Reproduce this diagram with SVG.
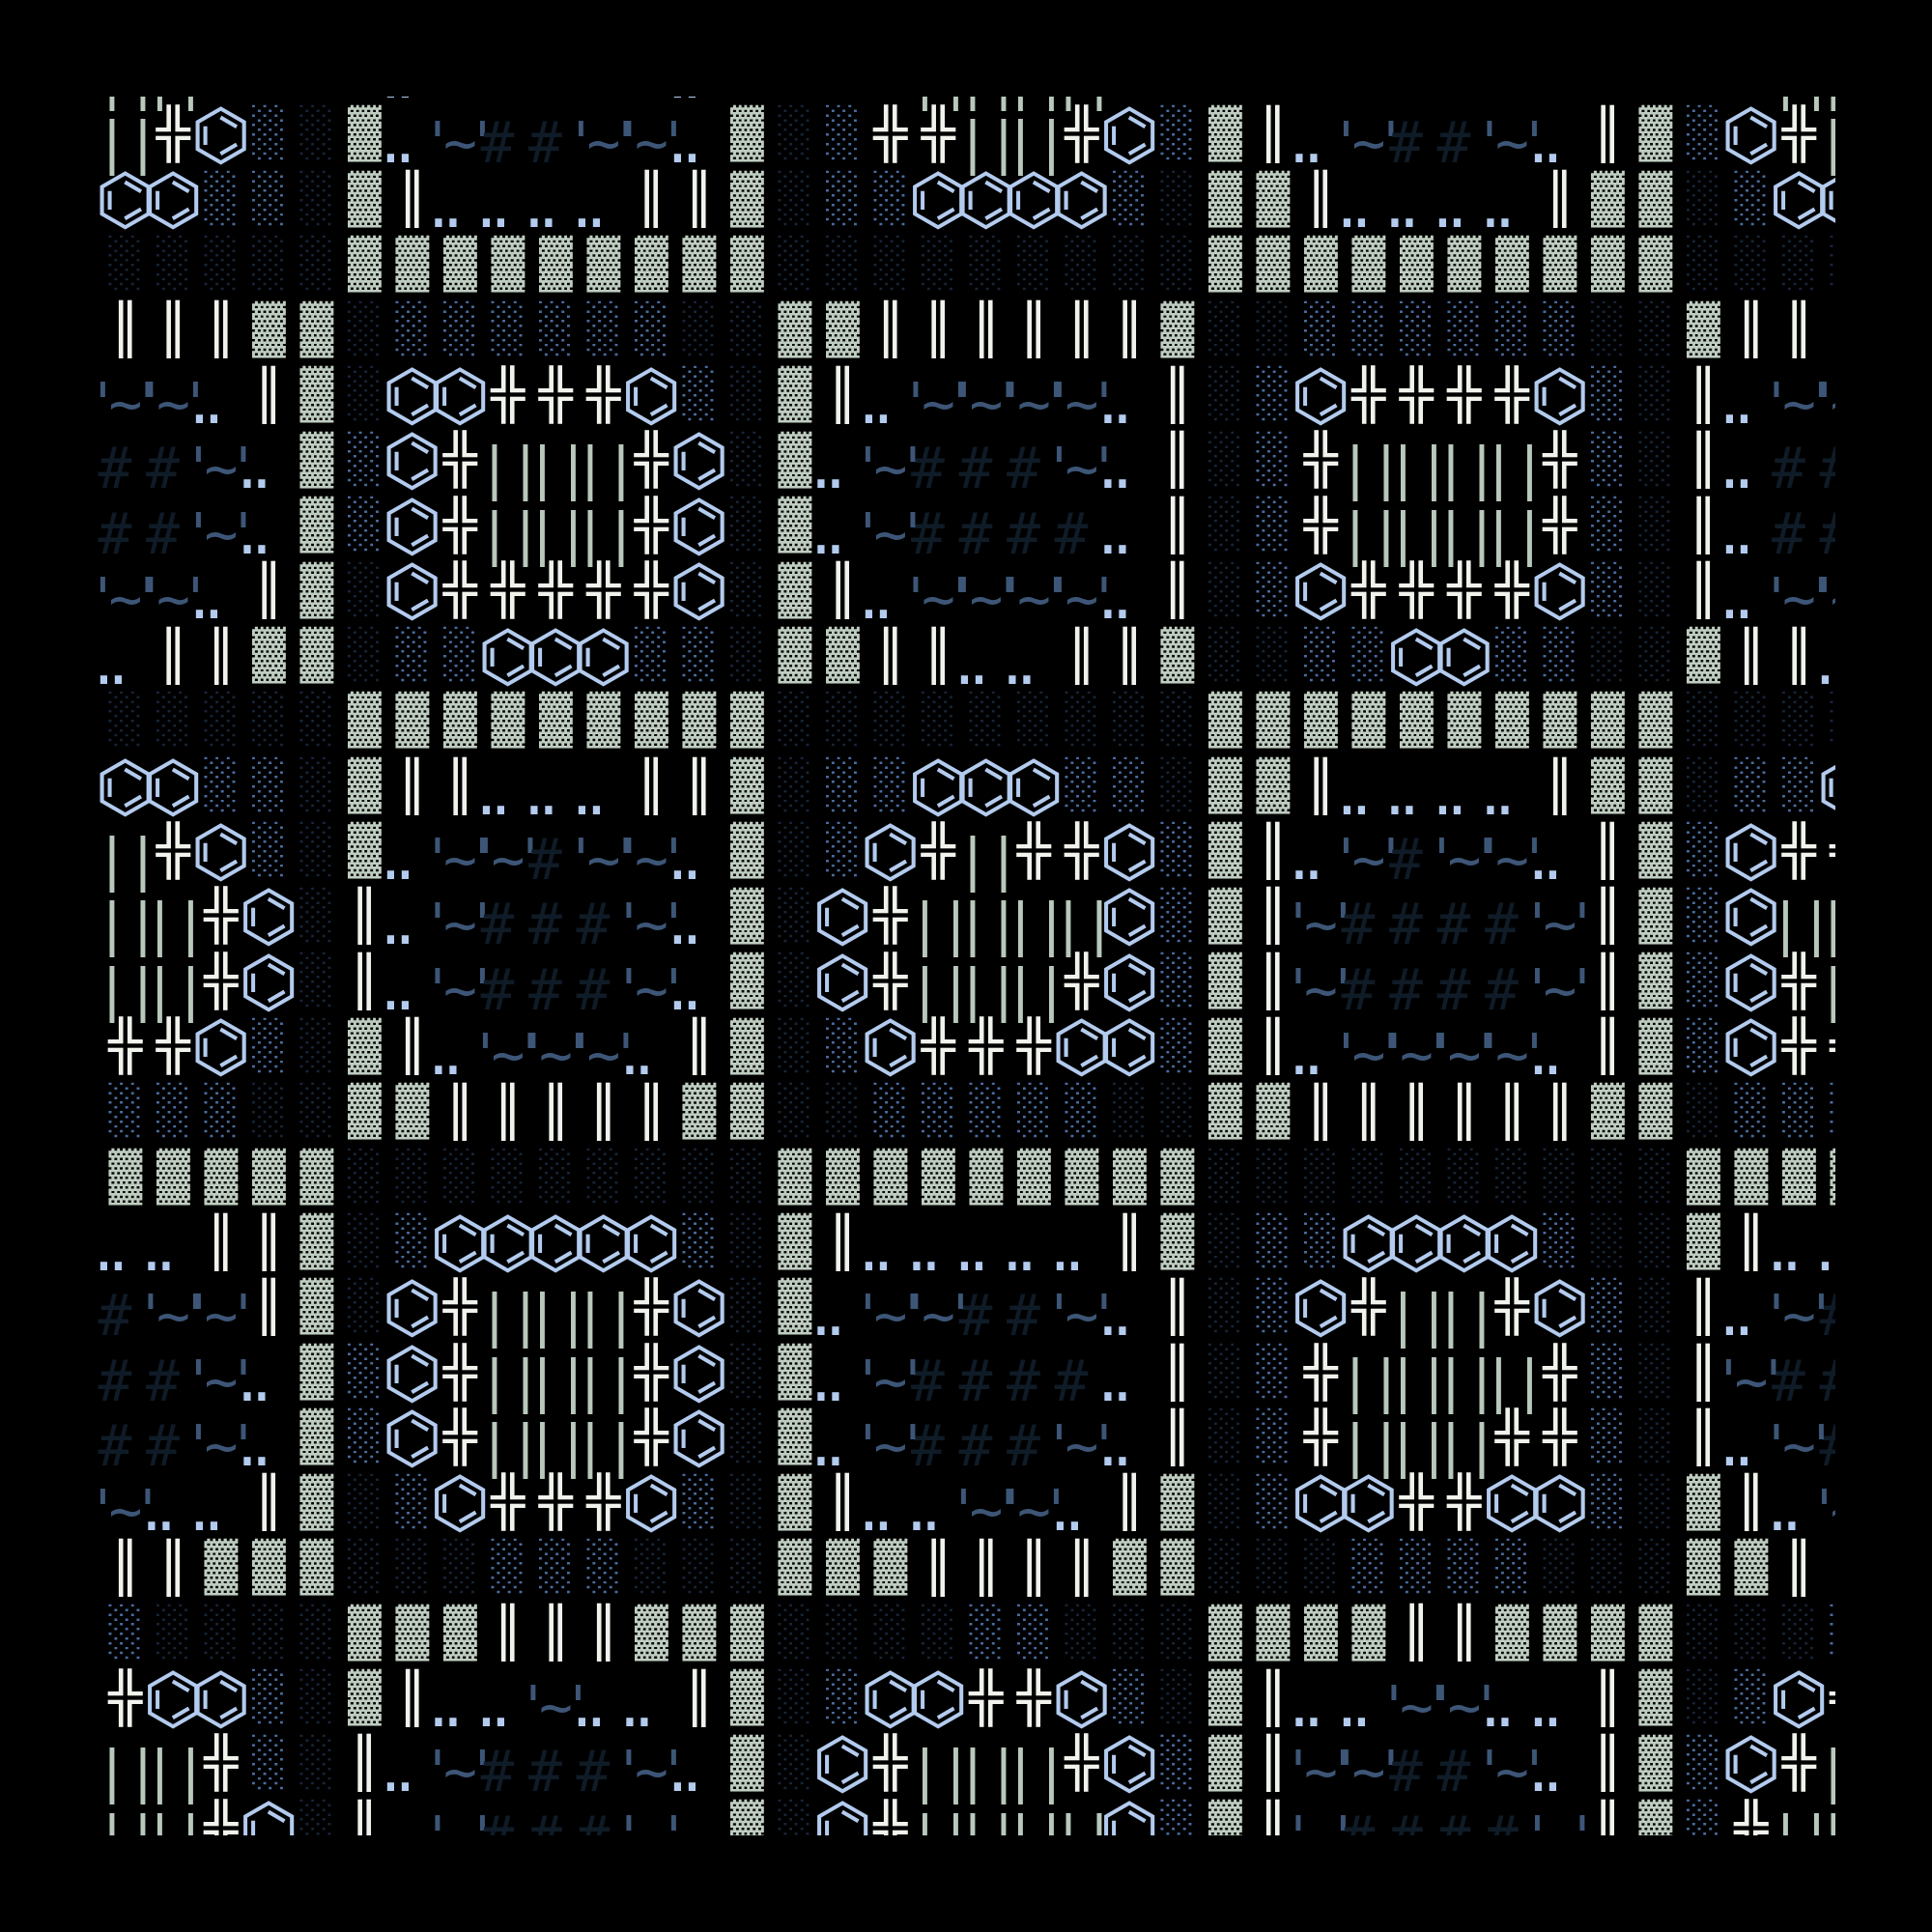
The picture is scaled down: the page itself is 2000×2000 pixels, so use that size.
<svg xmlns="http://www.w3.org/2000/svg" width="2000" height="2000" viewBox="0 0 2000 2000">
<style>
text{font-family:"DejaVu Sans Mono","DejaVu Sans",monospace;font-size:58px;text-anchor:middle}
.s1,.s2,.s3{font-family:"Liberation Mono","DejaVu Sans Mono",monospace}
.s3{fill:#bfcdc1}.s2{fill:#4a6b9f}.s1{fill:#172539}.dv,.dx{fill:#f0f3ec}.bz{fill:#b3cbee;font-size:72px}.pb{fill:#b8c8bb}.tq{fill:#3d5677}.hs{fill:#0f1b27}.dt{fill:#b3cbee}
</style>
<defs><clipPath id="clip"><rect x="100" y="100" width="1800" height="1800"/></clipPath></defs>
<rect width="2000" height="2000" fill="#000"/>
<g clip-path="url(#clip)">
<g id="rowm1" transform="translate(0,41.55)">
<text class="pb" y="59" x="116 148 165.5 197.5 957.5 989.5 1007 1039 1056.5 1088.5 1106 1138 1848.5 1880.5 1898 1930">||||||||||||||||</text>
<text class="dt" y="59" x="404.5 419.5 701.5 716.5">....</text>
</g>
<g id="row00" transform="translate(0,109)">
<g transform="matrix(1 0 0 0.898 0 -9.61)">
<text class="s3" y="59" x="377.5 773.5 1268.5 1714">▓▓▓▓</text>
<text class="s2" y="59" x="278.5 872.5 1219 1763.5">░░░░</text>
<text class="s1" y="59" x="328 823">░░</text>
</g>
<g transform="matrix(1 0 0 0.8741 0 -4.545)">
<text class="dv" y="59" x="1318 1664.5">║║</text>
<text class="dx" y="59" x="179.5 922 971.5 1120 1862.5">╬╬╬╬╬</text>
</g>
<text class="bz" y="55" x="229 1169.5 1813">⌬⌬⌬</text>
<text class="pb" y="59" x="116 148 1007 1039 1056.5 1088.5 1898 1930">||||||||</text>
<text class="tq" y="59" x="453 476.5 499.5 601.5 625 648 651 674.5 697.5 1393.5 1417 1440 1542 1565.5 1588.5">'~''~''~''~''~'</text>
<text class="hs" y="59" x="515 564.5 1455.5 1505">####</text>
<text class="dt" y="59" x="404.5 419.5 701.5 716.5 1345 1360 1592.5 1607.5">........</text>
</g>
<g id="row01" transform="translate(0,176.45)">
<g transform="matrix(1 0 0 0.898 0 -9.61)">
<text class="s3" y="59" x="377.5 773.5 1268.5 1318 1664.5 1714">▓▓▓▓▓▓</text>
<text class="s2" y="59" x="229 278.5 872.5 922 1169.5 1813">░░░░░░</text>
<text class="s1" y="59" x="328 823 1219 1763.5">░░░░</text>
</g>
<g transform="matrix(1 0 0 0.8741 0 -4.545)">
<text class="dv" y="59" x="427 674.5 724 1367.5 1615">║║║║║</text>
</g>
<text class="bz" y="55" x="130 179.5 971.5 1021 1070.5 1120 1862.5 1912">⌬⌬⌬⌬⌬⌬⌬⌬</text>
<text class="dt" y="59" x="454 469 503.5 518.5 553 568 602.5 617.5 1394.5 1409.5 1444 1459 1493.5 1508.5 1543 1558">................</text>
</g>
<g id="row02" transform="translate(0,243.9)">
<g transform="matrix(1 0 0 0.898 0 -9.61)">
<text class="s1" y="59" x="130 179.5 229 278.5 328 823 872.5 922 971.5 1021 1070.5 1120 1169.5 1219 1763.5 1813 1862.5 1912">░░░░░░░░░░░░░░░░░░</text>
<text class="s3" y="59" x="377.5 427 476.5 526 575.5 625 674.5 724 773.5 1268.5 1318 1367.5 1417 1466.5 1516 1565.5 1615 1664.5 1714">▓▓▓▓▓▓▓▓▓▓▓▓▓▓▓▓▓▓▓</text>
</g>
</g>
<g id="row03" transform="translate(0,311.35)">
<g transform="matrix(1 0 0 0.898 0 -9.61)">
<text class="s3" y="59" x="278.5 328 823 872.5 1219 1763.5">▓▓▓▓▓▓</text>
<text class="s1" y="59" x="377.5 724 773.5 1268.5 1318 1664.5 1714">░░░░░░░</text>
<text class="s2" y="59" x="427 476.5 526 575.5 625 674.5 1367.5 1417 1466.5 1516 1565.5 1615">░░░░░░░░░░░░</text>
</g>
<g transform="matrix(1 0 0 0.8741 0 -4.545)">
<text class="dv" y="59" x="130 179.5 229 922 971.5 1021 1070.5 1120 1169.5 1813 1862.5">║║║║║║║║║║║</text>
</g>
</g>
<g id="row04" transform="translate(0,378.8)">
<g transform="matrix(1 0 0 0.898 0 -9.61)">
<text class="s3" y="59" x="328 823">▓▓</text>
<text class="s1" y="59" x="377.5 773.5 1268.5 1714">░░░░</text>
<text class="s2" y="59" x="724 1318 1664.5">░░░</text>
</g>
<g transform="matrix(1 0 0 0.8741 0 -4.545)">
<text class="dv" y="59" x="278.5 872.5 1219 1763.5">║║║║</text>
<text class="dx" y="59" x="526 575.5 625 1417 1466.5 1516 1565.5">╬╬╬╬╬╬╬</text>
</g>
<text class="tq" y="59" x="106.5 130 153 156 179.5 202.5 948 971.5 994.5 997.5 1021 1044 1047 1070.5 1093.5 1096.5 1120 1143 1839 1862.5 1885.5 1888.5 1912 1935">'~''~''~''~''~''~''~''~'</text>
<text class="dt" y="59" x="206.5 221.5 899.5 914.5 1147 1162 1790.5 1805.5">........</text>
<text class="bz" y="55" x="427 476.5 674.5 1367.5 1615">⌬⌬⌬⌬⌬</text>
</g>
<g id="row05" transform="translate(0,446.25)">
<g transform="matrix(1 0 0 0.898 0 -9.61)">
<text class="s3" y="59" x="328 823">▓▓</text>
<text class="s2" y="59" x="377.5 1318 1664.5">░░░</text>
<text class="s1" y="59" x="773.5 1268.5 1714">░░░</text>
</g>
<g transform="matrix(1 0 0 0.8741 0 -4.545)">
<text class="dx" y="59" x="476.5 674.5 1367.5 1615">╬╬╬╬</text>
<text class="dv" y="59" x="1219 1763.5">║║</text>
</g>
<text class="hs" y="59" x="119 168.5 960.5 1010 1059.5 1851.5 1901">#######</text>
<text class="tq" y="59" x="205.5 229 252 898.5 922 945 1096.5 1120 1143">'~''~''~'</text>
<text class="dt" y="59" x="256 271 850 865 1147 1162 1790.5 1805.5">........</text>
<text class="bz" y="55" x="427 724">⌬⌬</text>
<text class="pb" y="59" x="512 544 561.5 593.5 611 643 1403 1435 1452.5 1484.5 1502 1534 1551.5 1583.5">||||||||||||||</text>
</g>
<g id="row06" transform="translate(0,513.7)">
<g transform="matrix(1 0 0 0.898 0 -9.61)">
<text class="s3" y="59" x="328 823">▓▓</text>
<text class="s2" y="59" x="377.5 1318 1664.5">░░░</text>
<text class="s1" y="59" x="773.5 1268.5 1714">░░░</text>
</g>
<g transform="matrix(1 0 0 0.8741 0 -4.545)">
<text class="dx" y="59" x="476.5 674.5 1367.5 1615">╬╬╬╬</text>
<text class="dv" y="59" x="1219 1763.5">║║</text>
</g>
<text class="hs" y="59" x="119 168.5 960.5 1010 1059.5 1109 1851.5 1901">########</text>
<text class="tq" y="59" x="205.5 229 252 898.5 922 945">'~''~'</text>
<text class="dt" y="59" x="256 271 850 865 1147 1162 1790.5 1805.5">........</text>
<text class="bz" y="55" x="427 724">⌬⌬</text>
<text class="pb" y="59" x="512 544 561.5 593.5 611 643 1403 1435 1452.5 1484.5 1502 1534 1551.5 1583.5">||||||||||||||</text>
</g>
<g id="row07" transform="translate(0,581.15)">
<g transform="matrix(1 0 0 0.898 0 -9.61)">
<text class="s3" y="59" x="328 823">▓▓</text>
<text class="s1" y="59" x="377.5 773.5 1268.5 1714">░░░░</text>
<text class="s2" y="59" x="1318 1664.5">░░</text>
</g>
<g transform="matrix(1 0 0 0.8741 0 -4.545)">
<text class="dv" y="59" x="278.5 872.5 1219 1763.5">║║║║</text>
<text class="dx" y="59" x="476.5 526 575.5 625 674.5 1417 1466.5 1516 1565.5">╬╬╬╬╬╬╬╬╬</text>
</g>
<text class="tq" y="59" x="106.5 130 153 156 179.5 202.5 948 971.5 994.5 997.5 1021 1044 1047 1070.5 1093.5 1096.5 1120 1143 1839 1862.5 1885.5 1888.5 1912 1935">'~''~''~''~''~''~''~''~'</text>
<text class="dt" y="59" x="206.5 221.5 899.5 914.5 1147 1162 1790.5 1805.5">........</text>
<text class="bz" y="55" x="427 724 1367.5 1615">⌬⌬⌬⌬</text>
</g>
<g id="row08" transform="translate(0,648.6)">
<g transform="matrix(1 0 0 0.898 0 -9.61)">
<text class="s3" y="59" x="278.5 328 823 872.5 1219 1763.5">▓▓▓▓▓▓</text>
<text class="s1" y="59" x="377.5 773.5 1268.5 1318 1664.5 1714">░░░░░░</text>
<text class="s2" y="59" x="427 476.5 674.5 724 1367.5 1417 1565.5 1615">░░░░░░░░</text>
</g>
<g transform="matrix(1 0 0 0.8741 0 -4.545)">
<text class="dv" y="59" x="179.5 229 922 971.5 1120 1169.5 1813 1862.5">║║║║║║║║</text>
</g>
<text class="dt" y="59" x="107.5 122.5 998.5 1013.5 1048 1063 1889.5 1904.5">........</text>
<text class="bz" y="55" x="526 575.5 625 1466.5 1516">⌬⌬⌬⌬⌬</text>
</g>
<g id="row09" transform="translate(0,716.05)">
<g transform="matrix(1 0 0 0.898 0 -9.61)">
<text class="s1" y="59" x="130 179.5 229 278.5 328 823 872.5 922 971.5 1021 1070.5 1120 1169.5 1219 1763.5 1813 1862.5 1912">░░░░░░░░░░░░░░░░░░</text>
<text class="s3" y="59" x="377.5 427 476.5 526 575.5 625 674.5 724 773.5 1268.5 1318 1367.5 1417 1466.5 1516 1565.5 1615 1664.5 1714">▓▓▓▓▓▓▓▓▓▓▓▓▓▓▓▓▓▓▓</text>
</g>
</g>
<g id="row10" transform="translate(0,783.5)">
<g transform="matrix(1 0 0 0.898 0 -9.61)">
<text class="s2" y="59" x="229 278.5 872.5 922 1120 1169.5 1813 1862.5">░░░░░░░░</text>
<text class="s1" y="59" x="328 823 1219 1763.5">░░░░</text>
<text class="s3" y="59" x="377.5 773.5 1268.5 1318 1664.5 1714">▓▓▓▓▓▓</text>
</g>
<g transform="matrix(1 0 0 0.8741 0 -4.545)">
<text class="dv" y="59" x="427 476.5 674.5 724 1367.5 1615">║║║║║║</text>
</g>
<text class="bz" y="55" x="130 179.5 971.5 1021 1070.5 1912">⌬⌬⌬⌬⌬⌬</text>
<text class="dt" y="59" x="503.5 518.5 553 568 602.5 617.5 1394.5 1409.5 1444 1459 1493.5 1508.5 1543 1558">..............</text>
</g>
<g id="row11" transform="translate(0,850.95)">
<g transform="matrix(1 0 0 0.898 0 -9.61)">
<text class="s2" y="59" x="278.5 872.5 1219 1763.5">░░░░</text>
<text class="s1" y="59" x="328 823">░░</text>
<text class="s3" y="59" x="377.5 773.5 1268.5 1714">▓▓▓▓</text>
</g>
<g transform="matrix(1 0 0 0.8741 0 -4.545)">
<text class="dx" y="59" x="179.5 971.5 1070.5 1120 1862.5 1912">╬╬╬╬╬╬</text>
<text class="dv" y="59" x="1318 1664.5">║║</text>
</g>
<text class="pb" y="59" x="116 148 1007 1039">||||</text>
<text class="bz" y="55" x="229 922 1169.5 1813">⌬⌬⌬⌬</text>
<text class="dt" y="59" x="404.5 419.5 701.5 716.5 1345 1360 1592.5 1607.5">........</text>
<text class="tq" y="59" x="453 476.5 499.5 502.5 526 549 601.5 625 648 651 674.5 697.5 1393.5 1417 1440 1492.5 1516 1539 1542 1565.5 1588.5">'~''~''~''~''~''~''~'</text>
<text class="hs" y="59" x="564.5 1455.5">##</text>
</g>
<g id="row12" transform="translate(0,918.4)">
<g transform="matrix(1 0 0 0.898 0 -9.61)">
<text class="s1" y="59" x="328 823">░░</text>
<text class="s3" y="59" x="773.5 1268.5 1714">▓▓▓</text>
<text class="s2" y="59" x="1219 1763.5">░░</text>
</g>
<g transform="matrix(1 0 0 0.8741 0 -4.545)">
<text class="dx" y="59" x="229 922">╬╬</text>
<text class="dv" y="59" x="377.5 1318 1664.5">║║║</text>
</g>
<text class="pb" y="59" x="116 148 165.5 197.5 957.5 989.5 1007 1039 1056.5 1088.5 1106 1138 1848.5 1880.5 1898 1930">||||||||||||||||</text>
<text class="bz" y="55" x="278.5 872.5 1169.5 1813">⌬⌬⌬⌬</text>
<text class="dt" y="59" x="404.5 419.5 701.5 716.5">....</text>
<text class="tq" y="59" x="453 476.5 499.5 651 674.5 697.5 1344 1367.5 1390.5 1591.5 1615 1638">'~''~''~''~'</text>
<text class="hs" y="59" x="515 564.5 614 1406 1455.5 1505 1554.5">#######</text>
</g>
<g id="row13" transform="translate(0,985.85)">
<g transform="matrix(1 0 0 0.898 0 -9.61)">
<text class="s1" y="59" x="328 823">░░</text>
<text class="s3" y="59" x="773.5 1268.5 1714">▓▓▓</text>
<text class="s2" y="59" x="1219 1763.5">░░</text>
</g>
<g transform="matrix(1 0 0 0.8741 0 -4.545)">
<text class="dx" y="59" x="229 922 1120 1862.5">╬╬╬╬</text>
<text class="dv" y="59" x="377.5 1318 1664.5">║║║</text>
</g>
<text class="pb" y="59" x="116 148 165.5 197.5 957.5 989.5 1007 1039 1056.5 1088.5 1898 1930">||||||||||||</text>
<text class="bz" y="55" x="278.5 872.5 1169.5 1813">⌬⌬⌬⌬</text>
<text class="dt" y="59" x="404.5 419.5 701.5 716.5">....</text>
<text class="tq" y="59" x="453 476.5 499.5 651 674.5 697.5 1344 1367.5 1390.5 1591.5 1615 1638">'~''~''~''~'</text>
<text class="hs" y="59" x="515 564.5 614 1406 1455.5 1505 1554.5">#######</text>
</g>
<g id="row14" transform="translate(0,1053.3)">
<g transform="matrix(1 0 0 0.898 0 -9.61)">
<text class="s2" y="59" x="278.5 872.5 1219 1763.5">░░░░</text>
<text class="s1" y="59" x="328 823">░░</text>
<text class="s3" y="59" x="377.5 773.5 1268.5 1714">▓▓▓▓</text>
</g>
<g transform="matrix(1 0 0 0.8741 0 -4.545)">
<text class="dx" y="59" x="130 179.5 971.5 1021 1070.5 1862.5 1912">╬╬╬╬╬╬╬</text>
<text class="dv" y="59" x="427 724 1318 1664.5">║║║║</text>
</g>
<text class="bz" y="55" x="229 922 1120 1169.5 1813">⌬⌬⌬⌬⌬</text>
<text class="dt" y="59" x="454 469 652 667 1345 1360 1592.5 1607.5">........</text>
<text class="tq" y="59" x="502.5 526 549 552 575.5 598.5 601.5 625 648 1393.5 1417 1440 1443 1466.5 1489.5 1492.5 1516 1539 1542 1565.5 1588.5">'~''~''~''~''~''~''~'</text>
</g>
<g id="row15" transform="translate(0,1120.75)">
<g transform="matrix(1 0 0 0.898 0 -9.61)">
<text class="s2" y="59" x="130 179.5 229 922 971.5 1021 1070.5 1120 1813 1862.5 1912">░░░░░░░░░░░</text>
<text class="s1" y="59" x="278.5 328 823 872.5 1169.5 1219 1763.5">░░░░░░░</text>
<text class="s3" y="59" x="377.5 427 724 773.5 1268.5 1318 1664.5 1714">▓▓▓▓▓▓▓▓</text>
</g>
<g transform="matrix(1 0 0 0.8741 0 -4.545)">
<text class="dv" y="59" x="476.5 526 575.5 625 674.5 1367.5 1417 1466.5 1516 1565.5 1615">║║║║║║║║║║║</text>
</g>
</g>
<g id="row16" transform="translate(0,1188.2)">
<g transform="matrix(1 0 0 0.898 0 -9.61)">
<text class="s3" y="59" x="130 179.5 229 278.5 328 823 872.5 922 971.5 1021 1070.5 1120 1169.5 1219 1763.5 1813 1862.5 1912">▓▓▓▓▓▓▓▓▓▓▓▓▓▓▓▓▓▓</text>
<text class="s1" y="59" x="377.5 427 476.5 526 575.5 625 674.5 724 773.5 1268.5 1318 1367.5 1417 1466.5 1516 1565.5 1615 1664.5 1714">░░░░░░░░░░░░░░░░░░░</text>
</g>
</g>
<g id="row17" transform="translate(0,1255.65)">
<g transform="matrix(1 0 0 0.898 0 -9.61)">
<text class="s3" y="59" x="328 823 1219 1763.5">▓▓▓▓</text>
<text class="s1" y="59" x="377.5 773.5 1268.5 1664.5 1714">░░░░░</text>
<text class="s2" y="59" x="427 724 1318 1367.5 1615">░░░░░</text>
</g>
<g transform="matrix(1 0 0 0.8741 0 -4.545)">
<text class="dv" y="59" x="229 278.5 872.5 1169.5 1813">║║║║║</text>
</g>
<text class="dt" y="59" x="107.5 122.5 157 172 899.5 914.5 949 964 998.5 1013.5 1048 1063 1097.5 1112.5 1840 1855 1889.5 1904.5">..................</text>
<text class="bz" y="55" x="476.5 526 575.5 625 674.5 1417 1466.5 1516 1565.5">⌬⌬⌬⌬⌬⌬⌬⌬⌬</text>
</g>
<g id="row18" transform="translate(0,1323.1)">
<g transform="matrix(1 0 0 0.898 0 -9.61)">
<text class="s3" y="59" x="328 823">▓▓</text>
<text class="s1" y="59" x="377.5 773.5 1268.5 1714">░░░░</text>
<text class="s2" y="59" x="1318 1664.5">░░</text>
</g>
<g transform="matrix(1 0 0 0.8741 0 -4.545)">
<text class="dv" y="59" x="278.5 1219 1763.5">║║║</text>
<text class="dx" y="59" x="476.5 674.5 1417 1565.5">╬╬╬╬</text>
</g>
<text class="hs" y="59" x="119 1010 1059.5 1901">####</text>
<text class="tq" y="59" x="156 179.5 202.5 205.5 229 252 898.5 922 945 948 971.5 994.5 1096.5 1120 1143 1839 1862.5 1885.5">'~''~''~''~''~''~'</text>
<text class="bz" y="55" x="427 724 1367.5 1615">⌬⌬⌬⌬</text>
<text class="pb" y="59" x="512 544 561.5 593.5 611 643 1452.5 1484.5 1502 1534">||||||||||</text>
<text class="dt" y="59" x="850 865 1147 1162 1790.5 1805.5">......</text>
</g>
<g id="row19" transform="translate(0,1390.55)">
<g transform="matrix(1 0 0 0.898 0 -9.61)">
<text class="s3" y="59" x="328 823">▓▓</text>
<text class="s2" y="59" x="377.5 1318 1664.5">░░░</text>
<text class="s1" y="59" x="773.5 1268.5 1714">░░░</text>
</g>
<g transform="matrix(1 0 0 0.8741 0 -4.545)">
<text class="dx" y="59" x="476.5 674.5 1367.5 1615">╬╬╬╬</text>
<text class="dv" y="59" x="1219 1763.5">║║</text>
</g>
<text class="hs" y="59" x="119 168.5 960.5 1010 1059.5 1109 1851.5 1901">########</text>
<text class="tq" y="59" x="205.5 229 252 898.5 922 945 1789.5 1813 1836">'~''~''~'</text>
<text class="dt" y="59" x="256 271 850 865 1147 1162">......</text>
<text class="bz" y="55" x="427 724">⌬⌬</text>
<text class="pb" y="59" x="512 544 561.5 593.5 611 643 1403 1435 1452.5 1484.5 1502 1534 1551.5 1583.5">||||||||||||||</text>
</g>
<g id="row20" transform="translate(0,1458)">
<g transform="matrix(1 0 0 0.898 0 -9.61)">
<text class="s3" y="59" x="328 823">▓▓</text>
<text class="s2" y="59" x="377.5 1318 1664.5">░░░</text>
<text class="s1" y="59" x="773.5 1268.5 1714">░░░</text>
</g>
<g transform="matrix(1 0 0 0.8741 0 -4.545)">
<text class="dx" y="59" x="476.5 674.5 1367.5 1565.5 1615">╬╬╬╬╬</text>
<text class="dv" y="59" x="1219 1763.5">║║</text>
</g>
<text class="hs" y="59" x="119 168.5 960.5 1010 1059.5 1901">######</text>
<text class="tq" y="59" x="205.5 229 252 898.5 922 945 1096.5 1120 1143 1839 1862.5 1885.5">'~''~''~''~'</text>
<text class="dt" y="59" x="256 271 850 865 1147 1162 1790.5 1805.5">........</text>
<text class="bz" y="55" x="427 724">⌬⌬</text>
<text class="pb" y="59" x="512 544 561.5 593.5 611 643 1403 1435 1452.5 1484.5 1502 1534">||||||||||||</text>
</g>
<g id="row21" transform="translate(0,1525.45)">
<g transform="matrix(1 0 0 0.898 0 -9.61)">
<text class="s3" y="59" x="328 823 1219 1763.5">▓▓▓▓</text>
<text class="s1" y="59" x="377.5 773.5 1268.5 1714">░░░░</text>
<text class="s2" y="59" x="427 724 1318 1664.5">░░░░</text>
</g>
<g transform="matrix(1 0 0 0.8741 0 -4.545)">
<text class="dv" y="59" x="278.5 872.5 1169.5 1813">║║║║</text>
<text class="dx" y="59" x="526 575.5 625 1466.5 1516">╬╬╬╬╬</text>
</g>
<text class="tq" y="59" x="106.5 130 153 997.5 1021 1044 1047 1070.5 1093.5 1888.5 1912 1935">'~''~''~''~'</text>
<text class="dt" y="59" x="157 172 206.5 221.5 899.5 914.5 949 964 1097.5 1112.5 1840 1855">............</text>
<text class="bz" y="55" x="476.5 674.5 1367.5 1417 1565.5 1615">⌬⌬⌬⌬⌬⌬</text>
</g>
<g id="row22" transform="translate(0,1592.9)">
<g transform="matrix(1 0 0 0.898 0 -9.61)">
<text class="s3" y="59" x="229 278.5 328 823 872.5 922 1169.5 1219 1763.5 1813">▓▓▓▓▓▓▓▓▓▓</text>
<text class="s1" y="59" x="377.5 427 476.5 674.5 724 773.5 1268.5 1318 1367.5 1615 1664.5 1714">░░░░░░░░░░░░</text>
<text class="s2" y="59" x="526 575.5 625 1417 1466.5 1516 1565.5">░░░░░░░</text>
</g>
<g transform="matrix(1 0 0 0.8741 0 -4.545)">
<text class="dv" y="59" x="130 179.5 971.5 1021 1070.5 1120 1862.5">║║║║║║║</text>
</g>
</g>
<g id="row23" transform="translate(0,1660.35)">
<g transform="matrix(1 0 0 0.898 0 -9.61)">
<text class="s2" y="59" x="130 1021 1070.5 1912">░░░░</text>
<text class="s1" y="59" x="179.5 229 278.5 328 823 872.5 922 971.5 1120 1169.5 1219 1763.5 1813 1862.5">░░░░░░░░░░░░░░</text>
<text class="s3" y="59" x="377.5 427 476.5 674.5 724 773.5 1268.5 1318 1367.5 1417 1565.5 1615 1664.5 1714">▓▓▓▓▓▓▓▓▓▓▓▓▓▓</text>
</g>
<g transform="matrix(1 0 0 0.8741 0 -4.545)">
<text class="dv" y="59" x="526 575.5 625 1466.5 1516">║║║║║</text>
</g>
</g>
<g id="row24" transform="translate(0,1727.8)">
<g transform="matrix(1 0 0 0.898 0 -9.61)">
<text class="s2" y="59" x="278.5 872.5 1169.5 1813">░░░░</text>
<text class="s1" y="59" x="328 823 1219 1763.5">░░░░</text>
<text class="s3" y="59" x="377.5 773.5 1268.5 1714">▓▓▓▓</text>
</g>
<g transform="matrix(1 0 0 0.8741 0 -4.545)">
<text class="dx" y="59" x="130 1021 1070.5 1912">╬╬╬╬</text>
<text class="dv" y="59" x="427 724 1318 1664.5">║║║║</text>
</g>
<text class="bz" y="55" x="179.5 229 922 971.5 1120 1862.5">⌬⌬⌬⌬⌬⌬</text>
<text class="dt" y="59" x="454 469 503.5 518.5 602.5 617.5 652 667 1345 1360 1394.5 1409.5 1543 1558 1592.5 1607.5">................</text>
<text class="tq" y="59" x="552 575.5 598.5 1443 1466.5 1489.5 1492.5 1516 1539">'~''~''~'</text>
</g>
<g id="row25" transform="translate(0,1795.25)">
<g transform="matrix(1 0 0 0.898 0 -9.61)">
<text class="s2" y="59" x="278.5 1219 1763.5">░░░</text>
<text class="s1" y="59" x="328 823">░░</text>
<text class="s3" y="59" x="773.5 1268.5 1714">▓▓▓</text>
</g>
<g transform="matrix(1 0 0 0.8741 0 -4.545)">
<text class="dx" y="59" x="229 922 1120 1862.5">╬╬╬╬</text>
<text class="dv" y="59" x="377.5 1318 1664.5">║║║</text>
</g>
<text class="pb" y="59" x="116 148 165.5 197.5 957.5 989.5 1007 1039 1056.5 1088.5 1898 1930">||||||||||||</text>
<text class="dt" y="59" x="404.5 419.5 701.5 716.5 1592.5 1607.5">......</text>
<text class="tq" y="59" x="453 476.5 499.5 651 674.5 697.5 1344 1367.5 1390.5 1393.5 1417 1440 1542 1565.5 1588.5">'~''~''~''~''~'</text>
<text class="hs" y="59" x="515 564.5 614 1455.5 1505">#####</text>
<text class="bz" y="55" x="872.5 1169.5 1813">⌬⌬⌬</text>
</g>
<g id="row26" transform="translate(0,1862.7)">
<g transform="matrix(1 0 0 0.898 0 -9.61)">
<text class="s1" y="59" x="328 823">░░</text>
<text class="s3" y="59" x="773.5 1268.5 1714">▓▓▓</text>
<text class="s2" y="59" x="1219 1763.5">░░</text>
</g>
<g transform="matrix(1 0 0 0.8741 0 -4.545)">
<text class="dx" y="59" x="229 922 1813">╬╬╬</text>
<text class="dv" y="59" x="377.5 1318 1664.5">║║║</text>
</g>
<text class="pb" y="59" x="116 148 165.5 197.5 957.5 989.5 1007 1039 1056.5 1088.5 1106 1138 1848.5 1880.5 1898 1930">||||||||||||||||</text>
<text class="bz" y="55" x="278.5 872.5 1169.5">⌬⌬⌬</text>
<text class="dt" y="59" x="404.5 419.5 701.5 716.5">....</text>
<text class="tq" y="59" x="453 476.5 499.5 651 674.5 697.5 1344 1367.5 1390.5 1591.5 1615 1638">'~''~''~''~'</text>
<text class="hs" y="59" x="515 564.5 614 1406 1455.5 1505 1554.5">#######</text>
</g>
</g>
</svg>
